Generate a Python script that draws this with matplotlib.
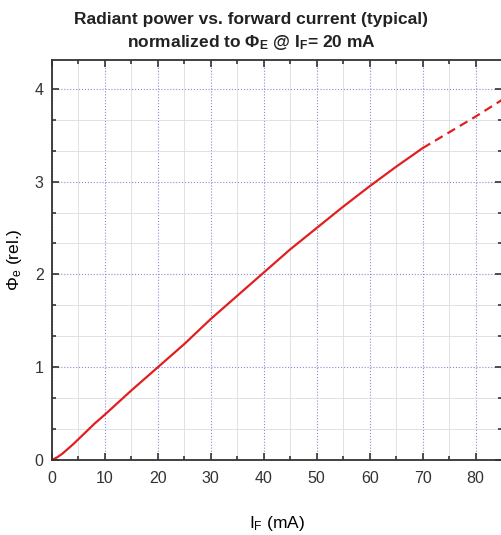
import matplotlib.pyplot as plt
from matplotlib.ticker import MultipleLocator

plt.rcParams['font.family'] = ['Liberation Sans', 'DejaVu Sans']
plt.rcParams['mathtext.fontset'] = 'custom'
plt.rcParams['mathtext.rm'] = 'Liberation Sans'
plt.rcParams['mathtext.it'] = 'Liberation Sans'
plt.rcParams['mathtext.bf'] = 'Liberation Sans:bold'

# Измеренная часть кривой (сплошная)
i_f = [0, 1, 2, 4, 6, 8, 10, 15, 20, 25, 30, 35, 40, 45, 50, 55, 60, 65, 70]
phi = [0, 0.03, 0.07, 0.17, 0.28, 0.39, 0.49, 0.75, 1.0, 1.25, 1.52, 1.77, 2.02, 2.27, 2.50, 2.73, 2.95, 3.16, 3.36]

# Экстраполяция (пунктир)
i_f_ext = [70, 75, 80, 85]
phi_ext = [3.36, 3.53, 3.70, 3.88]

fig = plt.figure(figsize=(5.02, 5.35), dpi=100)
ax = fig.add_axes([52 / 502, 75 / 535, 450 / 502, 400 / 535])

ax.plot(i_f, phi, color='#e02020', lw=1.6)
ax.plot(i_f_ext, phi_ext, color='#e02020', lw=1.6, ls=(0, (4, 2.5)))

ax.set_xlim(0, 85)
ax.set_ylim(0, 4.31)
ax.xaxis.set_major_locator(MultipleLocator(10))
ax.xaxis.set_minor_locator(MultipleLocator(5))
ax.yaxis.set_major_locator(MultipleLocator(1))
ax.yaxis.set_minor_locator(MultipleLocator(1 / 3))

ax.grid(True, which='major', color='#8888dd', ls=':', lw=0.8)
ax.grid(True, which='minor', color='#dcdce4', ls='-', lw=0.6)
ax.set_axisbelow(True)

ax.tick_params(which='both', direction='in', top=True, right=True,
               labelsize=11.5, width=1.2, colors='#333333')
ax.tick_params(which='major', length=5)
ax.tick_params(which='minor', length=3)
ax.tick_params(axis='x', which='major', pad=8)
ax.tick_params(axis='y', which='major', pad=6)
for s in ax.spines.values():
    s.set_linewidth(1.3)
    s.set_color('#333333')

ax.set_xlabel(r'$\mathregular{I_F}$ (mA)', fontsize=12.5, labelpad=20)
ax.set_ylabel(r'$\mathregular{\Phi_e}$ (rel.)', fontsize=12.5, labelpad=8)

fig.text(0.5, 0.955, 'Radiant power vs. forward current (typical)',
         ha='center', fontsize=12.5, fontweight='bold', color='#222222')
fig.text(0.5, 0.912, r'normalized to $\mathbf{\Phi_E}$ @ $\mathbf{I_F}$= 20 mA',
         ha='center', fontsize=12.5, fontweight='bold', color='#222222')

fig.savefig('out.png', dpi=100)
